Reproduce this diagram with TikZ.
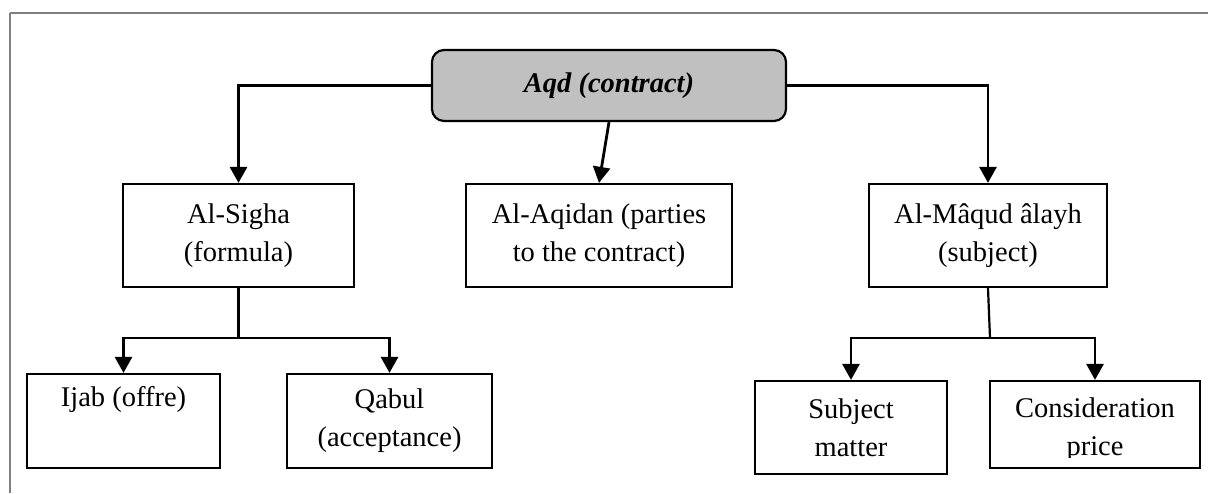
\documentclass[tikz,border=0pt]{standalone}
\usepackage{fontspec}
\setmainfont{Liberation Serif}
\usetikzlibrary{arrows.meta}
\definecolor{framegray}{RGB}{128,128,128}
\definecolor{rootfill}{RGB}{192,192,192}
\tikzset{
  txt/.style={font=\fontsize{28.5}{38}\selectfont},
  box/.style={draw=black, line width=2.2pt, rectangle, inner sep=0pt, align=center, txt},
  rootbox/.style={box, fill=rootfill, rounded corners=12pt, font=\fontsize{28.5}{38}\selectfont\bfseries\itshape},
  arr/.style={line width=2.8pt, -{Triangle[length=16pt,width=17pt]}},
  thinline/.style={line width=2.2pt},
  frameline/.style={draw=framegray, line width=2.2pt}
}
\begin{document}
\begin{tikzpicture}[x=1pt,y=-1pt]
\useasboundingbox (0,0) rectangle (1208,493);
\draw[frameline] (10,13) -- (1208,13);
\draw[frameline] (10,13) -- (10,493);

\node[rootbox, minimum width=354pt, minimum height=71pt] (root) at (609,85.5) {Aqd (contract)};

\node[box, minimum width=231pt, minimum height=103pt] (sigha) at (238.5,235.5) {Al-Sigha\\(formula)};
\node[box, minimum width=266pt, minimum height=103pt] (aqidan) at (599,235.5) {Al-Aqidan (parties\\to the contract)};
\node[box, minimum width=238pt, minimum height=103pt] (maqud) at (988,235.5) {Al-Mâqud âlayh\\(subject)};

\node[box, minimum width=193pt, minimum height=94pt] (ijab) at (123.5,421) {Ijab (offre)\\\strut};
\node[box, minimum width=205pt, minimum height=94pt] (qabul) at (389.5,421) {Qabul\\(acceptance)};
\node[box, minimum width=192pt, minimum height=93pt] (subj) at (851,427.5) {Subject\\matter};
\node[box, minimum width=210pt, minimum height=87pt] (cons) at (1095,424.5) {};
\begin{scope}
  \clip (cons.north west) rectangle ([yshift=12pt]cons.south east);
  \node[txt, align=center, inner sep=0pt] (constext) at (1095,430) {Consideration\\price};
\end{scope}

\draw[arr] (root.west) -| (sigha.north);
\draw[arr] (root.east) -| (maqud.north);
\draw[arr] (root.south) -- (aqidan.north);

\coordinate (j1) at (238.5,338);
\draw[thinline] (sigha.south) -- (j1);
\draw[arr] (j1) -| (ijab.north);
\draw[arr] (j1) -| (qabul.north);

\coordinate (j2) at (990,338);
\draw[thinline] (maqud.south) -- (j2);
\draw[arr] (j2) -| (subj.north);
\draw[arr] (j2) -| (cons.north);
\end{tikzpicture}
\end{document}
